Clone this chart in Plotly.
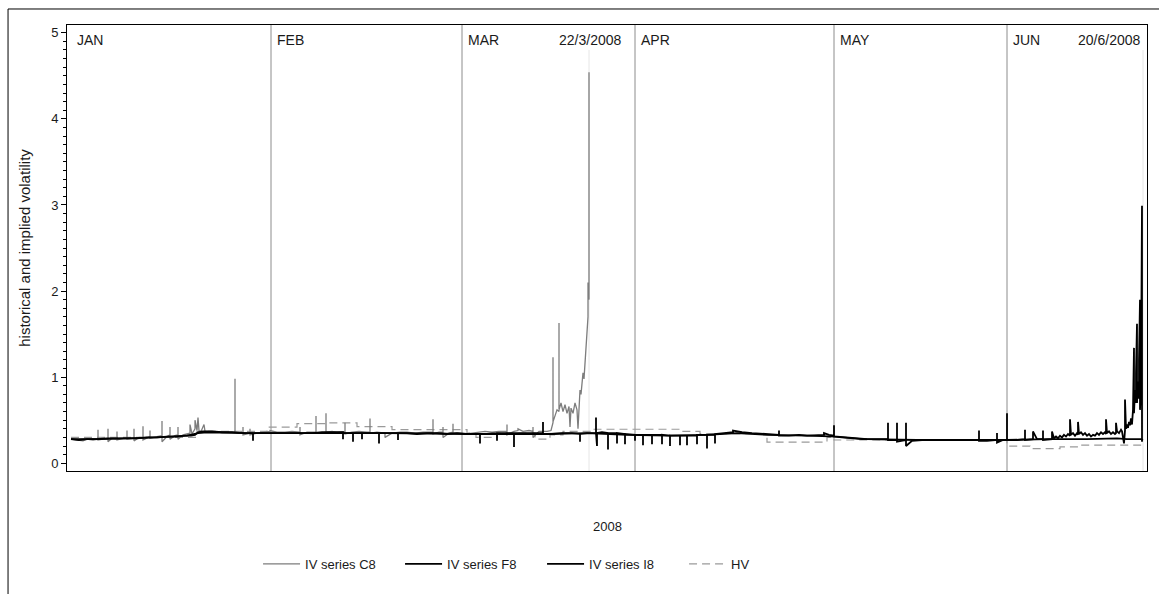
import plotly.graph_objects as go

month_names = ["JAN", "FEB", "MAR", "APR", "MAY", "JUN"]
month_start = [0, 204, 395, 568, 767, 940]
expiry_labels = ["22/3/2008", "20/6/2008"]
expiry_t = [522, 1076]

y_ticks = [0, 1, 2, 3, 4, 5]

# IV series C8 (grey) : (t, value)
c8_points = [
    (4, 0.28), (10, 0.27), (16, 0.26), (20, 0.28), (26, 0.27), (31, 0.28), (31, 0.39), (31, 0.27),
    (36, 0.28), (41, 0.28), (41, 0.40), (41, 0.25), (45, 0.29), (50, 0.28), (50, 0.37), (50, 0.27),
    (56, 0.29), (60, 0.29), (60, 0.38), (60, 0.28), (67, 0.29), (67, 0.40), (67, 0.26), (72, 0.30),
    (76, 0.30), (76, 0.43), (76, 0.27), (83, 0.31), (83, 0.38), (83, 0.29), (90, 0.31), (95, 0.32),
    (95, 0.49), (95, 0.25), (100, 0.31), (103, 0.33), (103, 0.42), (103, 0.28), (108, 0.32),
    (111, 0.33), (111, 0.42), (111, 0.28), (116, 0.33), (120, 0.34), (123, 0.35), (123, 0.45),
    (125, 0.34), (128, 0.40), (128, 0.50), (130, 0.38), (131, 0.53), (132, 0.38), (134, 0.37),
    (137, 0.45), (138, 0.37), (145, 0.37), (152, 0.36), (155, 0.36), (160, 0.36), (168, 0.36),
    (168, 0.98), (168, 0.36), (172, 0.35), (176, 0.36), (176, 0.42), (176, 0.33), (183, 0.35),
    (183, 0.40), (183, 0.33), (190, 0.35), (197, 0.36), (203, 0.37), (203, 0.38), (210, 0.36),
    (218, 0.36), (225, 0.37), (233, 0.36), (233, 0.42), (233, 0.33), (240, 0.36), (249, 0.36),
    (249, 0.55), (249, 0.35), (255, 0.35), (259, 0.36), (259, 0.58), (259, 0.36), (265, 0.37),
    (270, 0.36), (278, 0.37), (278, 0.47), (278, 0.34), (285, 0.36), (292, 0.37), (300, 0.36),
    (303, 0.36), (303, 0.52), (303, 0.35), (310, 0.36), (318, 0.35), (318, 0.30), (325, 0.35),
    (333, 0.36), (340, 0.36), (348, 0.35), (356, 0.36), (366, 0.36), (366, 0.51), (366, 0.34),
    (372, 0.36), (376, 0.36), (376, 0.42), (376, 0.30), (382, 0.35), (386, 0.36), (386, 0.46),
    (386, 0.35), (392, 0.35), (398, 0.34), (405, 0.35), (412, 0.36), (418, 0.37), (425, 0.36),
    (432, 0.37), (440, 0.37), (440, 0.45), (440, 0.33), (447, 0.37), (451, 0.38), (451, 0.40),
    (456, 0.37), (462, 0.38), (466, 0.37), (466, 0.42), (466, 0.30), (472, 0.37), (476, 0.37),
    (480, 0.37), (484, 0.38), (486, 0.47), (486, 1.23), (486, 0.48), (488, 0.55), (490, 0.62),
    (492, 0.60), (492, 1.63), (492, 0.62), (494, 0.70), (496, 0.60), (498, 0.68), (500, 0.58),
    (502, 0.66), (503, 0.42), (504, 0.64), (506, 0.58), (508, 0.70), (510, 0.62), (511, 0.40),
    (512, 0.66), (513, 0.85), (514, 0.80), (515, 0.95), (516, 1.05), (517, 0.98), (518, 1.16),
    (519, 1.30), (520, 1.55), (521, 1.70), (521, 2.10), (522, 1.90), (522, 4.54),
]

# IV series F8 (black)
f8_points = [
    (4, 0.28), (12, 0.27), (20, 0.28), (30, 0.28), (40, 0.29), (50, 0.29), (60, 0.29), (70, 0.29),
    (80, 0.30), (90, 0.30), (100, 0.31), (110, 0.31), (118, 0.32), (124, 0.32), (128, 0.33),
    (131, 0.36), (136, 0.37), (145, 0.37), (155, 0.36), (165, 0.36), (175, 0.35), (186, 0.35),
    (186, 0.26), (186, 0.35), (195, 0.35), (205, 0.35), (215, 0.35), (225, 0.35), (235, 0.35),
    (245, 0.35), (255, 0.36), (265, 0.36), (276, 0.36), (276, 0.28), (276, 0.35), (286, 0.35),
    (286, 0.25), (286, 0.35), (295, 0.35), (295, 0.28), (295, 0.35), (305, 0.35), (312, 0.35),
    (312, 0.23), (312, 0.35), (320, 0.35), (331, 0.35), (331, 0.27), (331, 0.35), (340, 0.35),
    (350, 0.34), (360, 0.35), (370, 0.35), (380, 0.34), (390, 0.35), (400, 0.34), (413, 0.34),
    (413, 0.23), (413, 0.34), (420, 0.34), (430, 0.35), (430, 0.26), (430, 0.35), (440, 0.35),
    (447, 0.35), (447, 0.19), (447, 0.35), (455, 0.35), (465, 0.35), (476, 0.35), (476, 0.48),
    (476, 0.34), (485, 0.34), (495, 0.35), (505, 0.35), (513, 0.34), (513, 0.25), (513, 0.34),
    (520, 0.35), (529, 0.35), (529, 0.53), (529, 0.35), (530, 0.20), (530, 0.35), (535, 0.36),
    (541, 0.35), (541, 0.16), (541, 0.35), (550, 0.35), (550, 0.23), (550, 0.35), (558, 0.34),
    (558, 0.22), (558, 0.34), (568, 0.33), (568, 0.26), (568, 0.33), (576, 0.33), (576, 0.21),
    (576, 0.33), (585, 0.33), (585, 0.22), (585, 0.33), (595, 0.33), (595, 0.22), (595, 0.33),
    (603, 0.32), (603, 0.20), (603, 0.32), (613, 0.32), (613, 0.21), (613, 0.32), (620, 0.32),
    (620, 0.21), (620, 0.32), (630, 0.32), (630, 0.22), (630, 0.33), (640, 0.33), (640, 0.17),
    (640, 0.33), (648, 0.33), (648, 0.23), (648, 0.34), (657, 0.35), (666, 0.36), (666, 0.38),
    (675, 0.36), (685, 0.35), (695, 0.34), (705, 0.33), (712, 0.33), (712, 0.38), (712, 0.32),
    (722, 0.32), (732, 0.33), (740, 0.32), (750, 0.33), (757, 0.33), (757, 0.35), (762, 0.33),
    (767, 0.32), (767, 0.44), (767, 0.31), (775, 0.30), (785, 0.29), (795, 0.28), (805, 0.28),
    (815, 0.28), (821, 0.28), (821, 0.47), (821, 0.27), (825, 0.27), (830, 0.27), (830, 0.47),
    (830, 0.25), (839, 0.27), (839, 0.47), (839, 0.20), (845, 0.26), (855, 0.27), (865, 0.27),
    (875, 0.27), (885, 0.27), (895, 0.27), (905, 0.27), (912, 0.27), (912, 0.38), (912, 0.26),
    (920, 0.26), (930, 0.27), (930, 0.35), (930, 0.24), (936, 0.27), (940, 0.27), (940, 0.58),
    (940, 0.27), (950, 0.27), (958, 0.28), (958, 0.39), (958, 0.27), (966, 0.28), (966, 0.37),
    (970, 0.28), (976, 0.28), (976, 0.38), (976, 0.27), (985, 0.28), (985, 0.37), (987, 0.29),
    (989, 0.31), (991, 0.29), (993, 0.32), (995, 0.30), (997, 0.33), (999, 0.31), (1001, 0.34),
    (1003, 0.32), (1003, 0.51), (1004, 0.33), (1006, 0.35), (1008, 0.32), (1010, 0.35),
    (1011, 0.33), (1011, 0.48), (1012, 0.34), (1014, 0.36), (1016, 0.33), (1018, 0.35),
    (1020, 0.32), (1022, 0.34), (1024, 0.31), (1026, 0.33), (1028, 0.32), (1030, 0.35),
    (1032, 0.33), (1034, 0.36), (1036, 0.34), (1038, 0.36), (1039, 0.34), (1039, 0.51),
    (1040, 0.35), (1042, 0.37), (1044, 0.34), (1046, 0.36), (1048, 0.34), (1049, 0.35),
    (1049, 0.47), (1050, 0.37), (1052, 0.35), (1054, 0.39), (1055, 0.37), (1057, 0.23),
    (1058, 0.38), (1058, 0.74), (1059, 0.40), (1060, 0.45), (1061, 0.41), (1062, 0.48),
    (1063, 0.44), (1064, 0.52), (1065, 0.45), (1066, 0.62), (1067, 1.34), (1067, 0.58),
    (1068, 0.85), (1069, 0.70), (1069, 1.05), (1070, 1.62), (1070, 0.70), (1071, 0.95),
    (1072, 0.75), (1072, 1.20), (1073, 1.90), (1073, 0.62), (1074, 0.95), (1075, 2.99),
    (1075, 0.25),
]

# IV series I8 (black)
i8_points = [
    (4, 0.28), (30, 0.28), (60, 0.29), (90, 0.30), (120, 0.32), (131, 0.35), (140, 0.36),
    (180, 0.35), (250, 0.35), (320, 0.35), (400, 0.34), (480, 0.34), (520, 0.35), (560, 0.33),
    (600, 0.32), (640, 0.33), (670, 0.35), (700, 0.33), (740, 0.32), (770, 0.31), (800, 0.28),
    (850, 0.27), (900, 0.27), (940, 0.27), (980, 0.28), (1020, 0.28), (1050, 0.29),
    (1060, 0.28), (1074, 0.28), (1076, 0.27),
]

# HV (grey dashed, daily steps)
hv_points = [
    (4, 0.30), (130, 0.37), (200, 0.42), (230, 0.46), (260, 0.47), (290, 0.425), (325, 0.39),
    (400, 0.35), (409, 0.30), (430, 0.35), (468, 0.28), (483, 0.33), (496, 0.37), (525, 0.395),
    (613, 0.37), (633, 0.345), (700, 0.245), (760, 0.30), (767, 0.27), (940, 0.20), (963, 0.17),
    (993, 0.19), (1013, 0.21), (1076, 0.21),
]

# ---------------- figure ----------------
FONT = "Liberation Sans, Arial, sans-serif"
TXT = "#1a1a1a"
fig = go.Figure()

def xy(points):
    return [p[0] for p in points], [p[1] for p in points]

x, y = xy(hv_points)
hv_trace = go.Scatter(x=x, y=y, mode="lines", name="HV", line_shape="hv",
                      line=dict(color="#9a9a9a", width=1.2, dash="8px,5px"))
x, y = xy(c8_points)
c8_trace = go.Scatter(x=x, y=y, mode="lines", name="IV series C8",
                      line=dict(color="#7d7d7d", width=1.3))
x, y = xy(f8_points)
f8_trace = go.Scatter(x=x, y=y, mode="lines", name="IV series F8",
                      line=dict(color="#000000", width=1.8))
x, y = xy(i8_points)
i8_trace = go.Scatter(x=x, y=y, mode="lines", name="IV series I8",
                      line=dict(color="#000000", width=1.8))

# drawing order: HV under, then C8, F8, I8 ; legend order C8, F8, I8, HV
c8_trace.legendrank = 1
f8_trace.legendrank = 2
i8_trace.legendrank = 3
hv_trace.legendrank = 4
for tr in (hv_trace, c8_trace, f8_trace, i8_trace):
    fig.add_trace(tr)

shapes = []
for t in month_start[1:]:
    shapes.append(dict(type="line", xref="x", yref="paper", x0=t, x1=t, y0=0, y1=1,
                       line=dict(color="#8c8c8c", width=1), layer="below"))
for t in expiry_t:
    shapes.append(dict(type="line", xref="x", yref="paper", x0=t, x1=t, y0=0, y1=0.944,
                       line=dict(color="#e6e6e6", width=1), layer="below"))
# outer frame (top and left edges of the exported graphic)
shapes.append(dict(type="line", xref="paper", yref="paper", x0=-0.0546, x1=1.2,
                   y0=1.0359, y1=1.0359, line=dict(color="black", width=1)))
shapes.append(dict(type="line", xref="paper", yref="paper", x0=-0.0546, x1=-0.0546,
                   y0=-0.4, y1=1.0359, line=dict(color="black", width=1)))

annotations = []
for i, (name, t) in enumerate(zip(month_names, month_start)):
    annotations.append(dict(x=t, y=0.966, xref="x", yref="paper", text=name, showarrow=False,
                            xanchor="left", yanchor="middle", xshift=8 if i == 0 else 4,
                            font=dict(family=FONT, size=14, color=TXT)))
annotations.append(dict(x=month_start[3], y=0.966, xref="x", yref="paper", text=expiry_labels[0],
                        showarrow=False, xanchor="right", yanchor="middle", xshift=-12,
                        font=dict(family=FONT, size=14, color=TXT)))
annotations.append(dict(x=1.0, y=0.966, xref="paper", yref="paper", text=expiry_labels[1],
                        showarrow=False, xanchor="right", yanchor="middle", xshift=-5,
                        font=dict(family=FONT, size=14, color=TXT)))
annotations.append(dict(x=0.5, y=-0.125, xref="paper", yref="paper", text="2008", showarrow=False,
                        xanchor="center", yanchor="middle",
                        font=dict(family=FONT, size=13, color=TXT)))

fig.update_layout(
    width=1159, height=594,
    margin=dict(l=67, r=12, t=25, b=123),
    paper_bgcolor="white", plot_bgcolor="white",
    font=dict(family=FONT, size=13, color=TXT),
    shapes=shapes, annotations=annotations,
    showlegend=True,
    legend=dict(orientation="h", x=0.1769, y=-0.2085, xanchor="left", yanchor="middle",
                itemwidth=37, entrywidth=90, entrywidthmode="pixels", traceorder="normal",
                font=dict(family=FONT, size=13, color=TXT), bgcolor="rgba(0,0,0,0)"),
    xaxis=dict(range=[0, 1080], showticklabels=False, ticks="", showgrid=False, zeroline=False,
               showline=True, mirror=True, linecolor="black", linewidth=1),
    yaxis=dict(range=[-0.09, 5.09], tickvals=y_ticks, ticks="outside", ticklen=5, tickcolor="black",
               minor=dict(dtick=0.1, tick0=0, ticks="outside", ticklen=3, tickcolor="black"),
               showgrid=False, zeroline=False, showline=True, mirror=True, linecolor="black",
               linewidth=1, tickfont=dict(family=FONT, size=13, color=TXT),
               title=dict(text="historical and implied volatility", standoff=16,
                          font=dict(family=FONT, size=15, color=TXT))),
)

fig.write_html("out.html")
